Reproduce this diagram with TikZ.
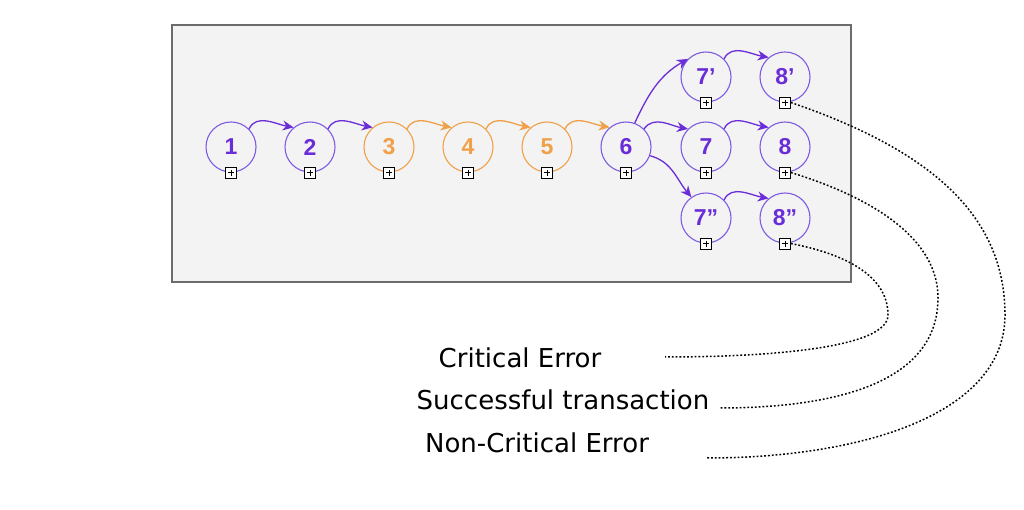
\documentclass[tikz,border=0pt]{standalone}
\usepackage{fontspec}
\setmainfont{DejaVu Sans}
\newfontfamily\numfont{Liberation Sans}
\usetikzlibrary{arrows.meta}
\definecolor{pur}{HTML}{6A2DD8}
\definecolor{purl}{HTML}{7F5BE3}
\definecolor{org}{HTML}{F0A048}
\definecolor{bgpanel}{HTML}{F3F3F3}
\tikzset{
  stage/.style={circle, draw=purl, line width=1.1pt, minimum size=50pt, inner sep=0pt,
    font=\numfont\bfseries\fontsize{23}{23}\selectfont, text=pur},
  ostage/.style={stage, draw=org, text=org},
  plusbox/.style={draw=black, fill=white, line width=0.8pt, minimum size=11pt, inner sep=0pt,
    path picture={\draw[line width=0.7pt] ([yshift=-2.5pt]path picture bounding box.north) -- ([yshift=2.5pt]path picture bounding box.south);
                  \draw[line width=0.7pt] ([xshift=2.5pt]path picture bounding box.west) -- ([xshift=-2.5pt]path picture bounding box.east);}},
  parr/.style={draw=pur, line width=1.3pt, -{Stealth[length=11pt,width=10pt]}},
  oarr/.style={parr, draw=org},
  dots/.style={line width=1.5pt, dash pattern=on 1.8pt off 2pt},
  lbl/.style={font=\fontsize{26}{26}\selectfont, inner sep=0pt}
}
\begin{document}
\begin{tikzpicture}[x=1pt,y=1pt]
\useasboundingbox (0,0) rectangle (1024,510);
\fill[white] (0,0) rectangle (1024,510);
\draw[fill=bgpanel, draw=gray!85!black, line width=1.3pt] (172,485) rectangle (851,228);
% nodes
\node[stage]  (n1) at (231,363) {1};
\node[stage]  (n2) at (310,363) {2};
\node[ostage] (n3) at (389,363) {3};
\node[ostage] (n4) at (468,363) {4};
\node[ostage] (n5) at (547,363) {5};
\node[stage]  (n6) at (626,363) {6};
\node[stage]  (n7) at (706,363) {7};
\node[stage]  (n8) at (785,363) {8};
\node[stage]  (n7p) at (706,433) {7’};
\node[stage]  (n8p) at (785,433) {8’};
\node[stage]  (n7q) at (706,292) {7”};
\node[stage]  (n8q) at (785,292) {8”};
\foreach \n in {n1,n2,n3,n4,n5,n6,n7,n8,n7p,n8p,n7q,n8q}
  \node[plusbox] (b\n) at (\n.south) {};
% arrows
\draw[parr] (n1.45) to[out=65,in=170] (n2.130);
\draw[parr] (n2.45) to[out=65,in=170] (n3.130);
\draw[oarr] (n3.45) to[out=65,in=170] (n4.130);
\draw[oarr] (n4.45) to[out=65,in=170] (n5.130);
\draw[oarr] (n5.45) to[out=65,in=170] (n6.130);
\draw[parr] (n6.70) to[out=65,in=210] (n7p.135);
\draw[parr] (n6.45) to[out=55,in=170] (n7.135);
\draw[parr] (n6.-20) to[out=-15,in=130] (n7q.125);
\draw[parr] (n7.45) to[out=65,in=170] (n8.130);
\draw[parr] (n7p.45) to[out=65,in=170] (n8p.130);
\draw[parr] (n7q.45) to[out=65,in=170] (n8q.130);
% labels
\node[lbl] (crit) at (520,152) {Critical Error};
\node[lbl] (succ) at (563,110) {Successful transaction};
\node[lbl] (ncrit) at (537,67) {Non-Critical Error};
\coordinate (ecrit) at (665,153);
\coordinate (esucc) at (720,102);
\coordinate (encrit) at (707,52);
\draw[dots] (bn8q.east) .. controls (850,255) and (888,232) .. (888,195)
  .. controls (888,162) and (770,153) .. (ecrit);
\draw[dots] (bn8.east) .. controls (880,310) and (938,268) .. (938,212)
  .. controls (938,125) and (830,102) .. (esucc);
\draw[dots] (bn8p.east) .. controls (930,360) and (1005,295) .. (1005,195)
  .. controls (1005,95) and (860,52) .. (encrit);
\end{tikzpicture}
\end{document}
